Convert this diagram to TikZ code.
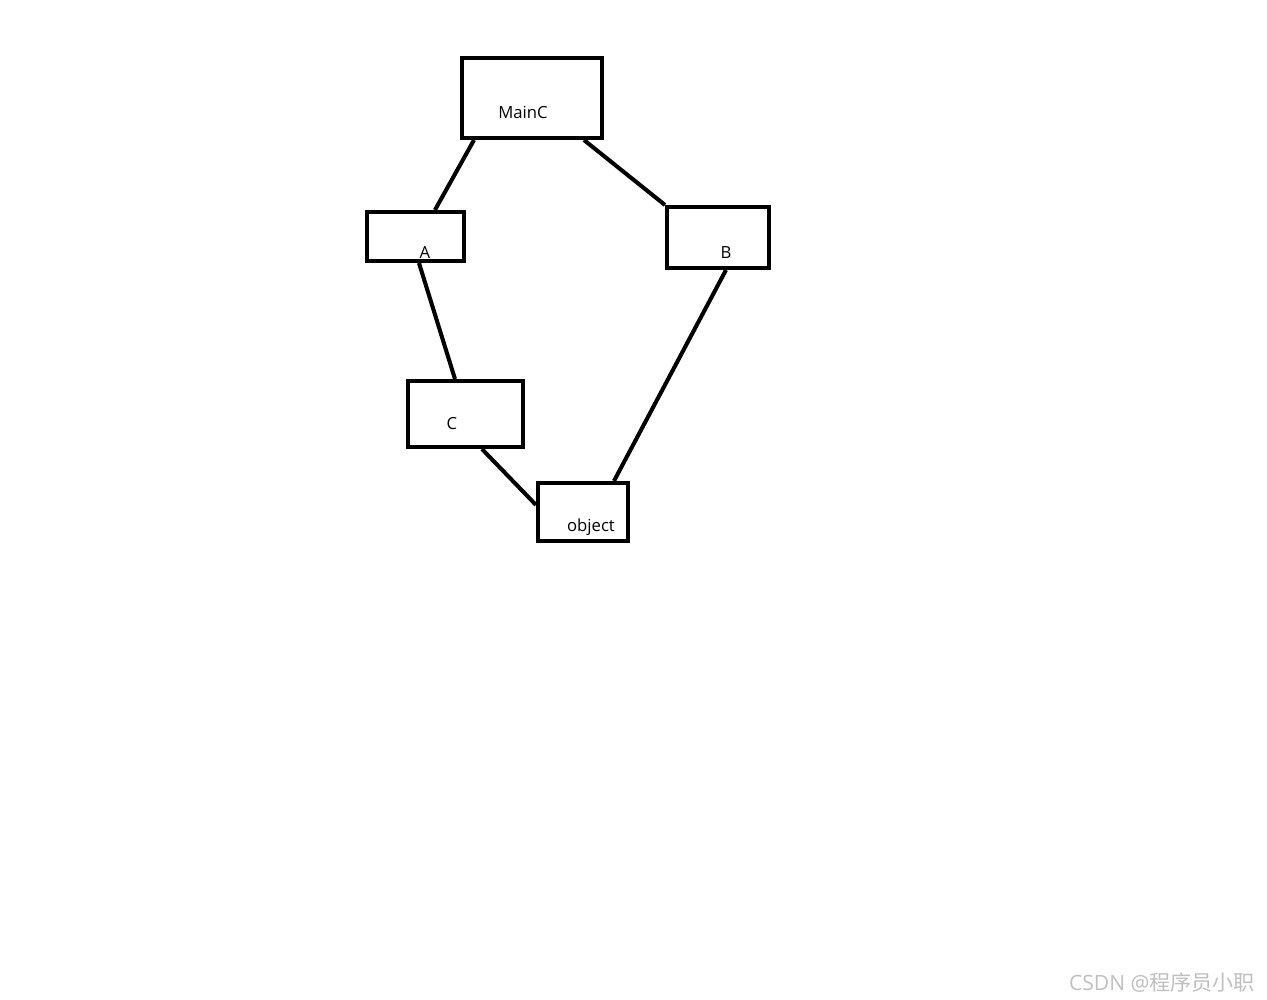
\documentclass[tikz,border=0pt]{standalone}
\usepackage{fontspec}
\setmainfont{Open Sans}
\newfontfamily\cjk{Noto Sans CJK SC}
\begin{document}
\begin{tikzpicture}[x=0.02cm,y=-0.02cm,line width=2.3pt]
\tikzset{
  box/.style={draw,shape=rectangle,inner sep=0pt},
  tag/.style={font=\fontsize{9.5}{11}\selectfont,inner sep=0pt,anchor=base}
}
\useasboundingbox (0,0) rectangle (1267,1000);
\node[box,minimum width=2.8cm,minimum height=1.6cm] (mainc) at (532,98) {};
\node[box,minimum width=1.94cm,minimum height=0.98cm] (a) at (415.5,236.5) {};
\node[box,minimum width=2.04cm,minimum height=1.22cm] (b) at (718,237.5) {};
\node[box,minimum width=2.3cm,minimum height=1.32cm] (c) at (465.5,414) {};
\node[box,minimum width=1.8cm,minimum height=1.16cm] (object) at (583,512) {};
\node[tag] (mainc-t) at (523,119) {MainC};
\node[tag] (a-t) at (425,258) {A};
\node[tag] (b-t) at (726,258) {B};
\node[tag] (c-t) at (452,429) {C};
\node[tag] (object-t) at (591,531) {object};
\draw ([xshift=0.28cm]mainc.south west) -- ([xshift=1.4cm]a.north west);
\draw ([xshift=2.48cm]mainc.south west) -- (b.north west);
\draw ([xshift=1.08cm]a.south west) -- ([xshift=0.98cm]c.north west);
\draw ([xshift=1.52cm]c.south west) -- ([yshift=-0.48cm]object.north west);
\draw ([xshift=1.22cm]b.south west) -- ([xshift=1.56cm]object.north west);
\node[anchor=base east,text=black!25,font=\fontsize{12}{14}\selectfont,inner sep=0pt] (mark) at (1257,990) {CSDN @{\cjk 程序员小职}};
\end{tikzpicture}
\end{document}
